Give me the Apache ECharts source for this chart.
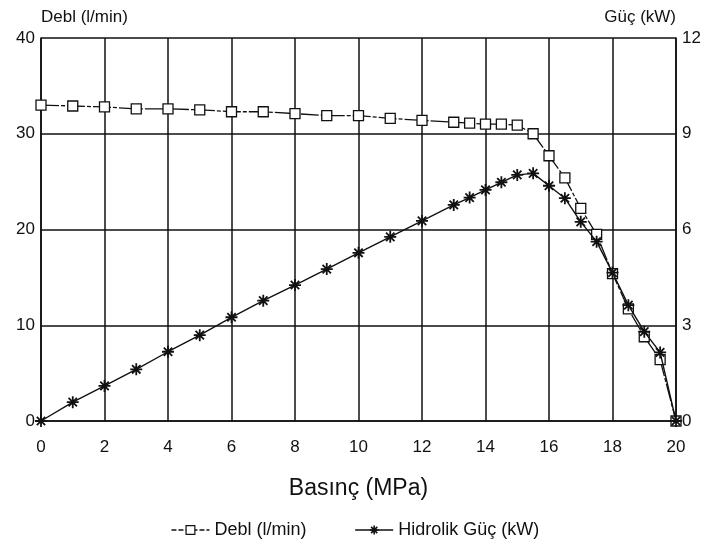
<!DOCTYPE html>
<html>
<head>
<meta charset="utf-8">
<title>Debl / Hidrolik Güç - Basınç</title>
<script src="https://cdn.jsdelivr.net/npm/echarts@6/dist/echarts.min.js"></script>
<style>
  html, body { margin: 0; padding: 0; background: #fff; }
  #chart { width: 710px; height: 551px; }
</style>
</head>
<body>
<div id="chart"></div>
<script>
// pressure (MPa) at each measured point
const pressure = [0, 1, 2, 3, 4, 5, 6, 7, 8, 9, 10, 11, 12, 13, 13.5, 14, 14.5, 15, 15.5,
                  16, 16.5, 17, 17.5, 18, 18.5, 19, 19.5, 20];
// flow (l/min)
const flow = [33.0, 32.9, 32.8, 32.6, 32.6, 32.5, 32.3, 32.3, 32.1, 31.9, 31.9, 31.6, 31.4, 31.2, 31.1, 31.0, 31.0, 30.9, 30.0,
              27.7, 25.4, 22.2, 19.5, 15.4, 11.7, 8.8, 6.4, 0];
// hydraulic power (kW)
const power = [0, 0.59, 1.1, 1.62, 2.17, 2.69, 3.25, 3.77, 4.26, 4.76, 5.27, 5.77, 6.27, 6.77, 7.0, 7.24, 7.48, 7.71, 7.76,
               7.37, 6.98, 6.24, 5.62, 4.65, 3.63, 2.8, 2.15, 0];

const seriesNames = ['Debl (l/min)', 'Hidrolik Güç (kW)'];

const FONT = '"Liberation Sans", Arial, sans-serif';
const INK = '#111';

// asterisk marker drawn as strokes
const starPath = 'path://M0,5L10,5M5,0L5,10M1.5,1.5L8.5,8.5M8.5,1.5L1.5,8.5';

const chart = echarts.init(document.getElementById('chart'), null, { renderer: 'canvas' });

const tickLabel = { color: INK, fontSize: 17, fontFamily: FONT };

chart.setOption({
  animation: false,
  backgroundColor: '#fff',
  grid: { left: 41, right: 34, top: 38, bottom: 130, containLabel: false },
  legend: {
    data: [
      {
        name: seriesNames[0],
        itemStyle: { borderWidth: 1.2, borderColor: INK, color: '#fff' },
        lineStyle: { type: [5, 2], width: 1.3, color: INK }
      },
      {
        name: seriesNames[1],
        itemStyle: { borderWidth: 1.6, borderColor: INK, color: INK },
        lineStyle: { width: 1.4, color: INK }
      }
    ],
    bottom: 7,
    left: 'center',
    itemWidth: 38,
    itemHeight: 11,
    itemGap: 48,
    textStyle: { color: INK, fontSize: 18, fontFamily: FONT }
  },
  xAxis: {
    type: 'value',
    min: 0,
    max: 20,
    interval: 2,
    name: 'Basınç (MPa)',
    nameLocation: 'middle',
    nameGap: 56,
    nameTextStyle: { color: INK, fontSize: 23, fontFamily: FONT },
    axisLine: { lineStyle: { color: INK, width: 1.6 } },
    axisTick: { show: false },
    axisLabel: { ...tickLabel, margin: 18 },
    splitLine: { show: true, lineStyle: { color: INK, width: 1.5 } }
  },
  yAxis: [
    {
      type: 'value',
      min: 0,
      max: 40,
      interval: 10,
      name: 'Debl (l/min)',
      nameLocation: 'end',
      nameGap: 12,
      nameTextStyle: { color: INK, fontSize: 17, fontFamily: FONT, align: 'left' },
      axisLine: { show: true, lineStyle: { color: INK, width: 1.6 } },
      axisTick: { show: false },
      axisLabel: { ...tickLabel, margin: 6 },
      splitLine: { show: true, lineStyle: { color: INK, width: 1.5 } }
    },
    {
      type: 'value',
      min: 0,
      max: 12,
      interval: 3,
      name: 'Güç (kW)',
      nameLocation: 'end',
      nameGap: 12,
      nameTextStyle: { color: INK, fontSize: 17, fontFamily: FONT, align: 'right' },
      axisLine: { show: true, lineStyle: { color: INK, width: 1.6 } },
      axisTick: { show: false },
      axisLabel: { ...tickLabel, margin: 6 },
      splitLine: { show: false }
    }
  ],
  series: [
    {
      name: seriesNames[0],
      type: 'line',
      yAxisIndex: 0,
      data: pressure.map((p, i) => [p, flow[i]]),
      symbol: 'rect',
      symbolSize: 10,
      lineStyle: { color: INK, width: 1.3, type: [18, 2, 4, 2] },
      itemStyle: { color: '#fff', borderColor: INK, borderWidth: 1.3 },
      z: 3
    },
    {
      name: seriesNames[1],
      type: 'line',
      yAxisIndex: 1,
      data: pressure.map((p, i) => [p, power[i]]),
      symbol: starPath,
      symbolSize: 12,
      lineStyle: { color: INK, width: 1.4 },
      itemStyle: { color: INK, borderColor: INK, borderWidth: 1.8 },
      z: 4
    }
  ]
});
</script>
</body>
</html>
